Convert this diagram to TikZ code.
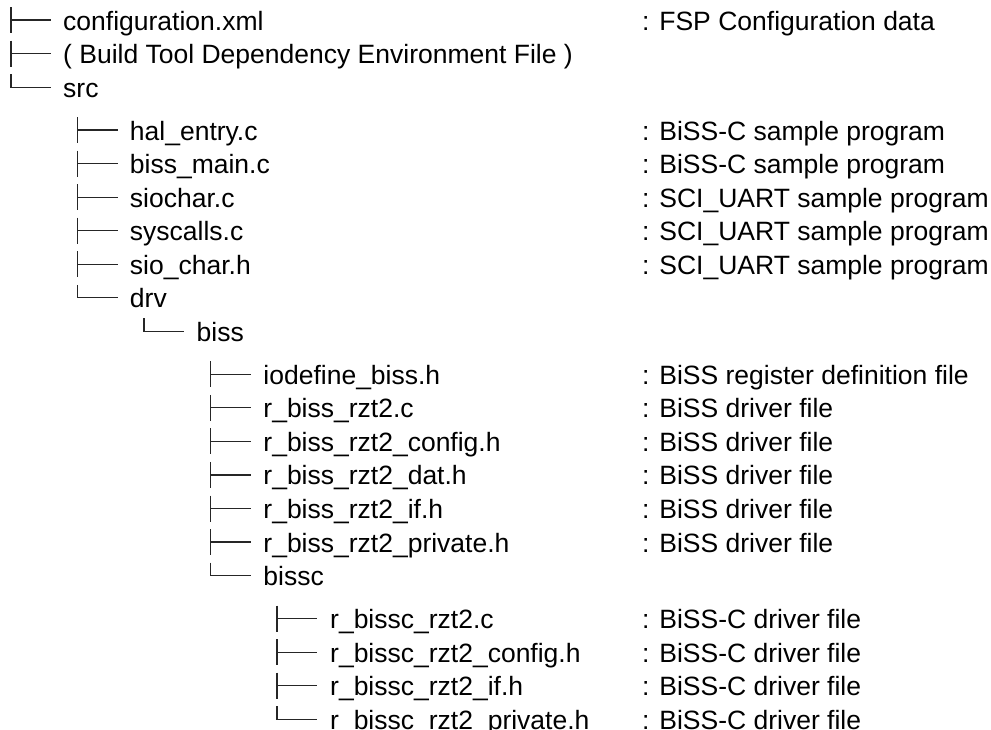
\documentclass[tikz,border=0pt]{standalone}
\usepackage{fontspec}
\setmainfont{Liberation Sans}
\newcommand{\rowfont}{\fontsize{26.5}{30}\selectfont}
\tikzset{
  fname/.style={anchor=base west, inner sep=0pt, font=\rowfont, text=black},
  fdesc/.style={anchor=base west, inner sep=0pt, font=\rowfont, text=black},
  treeline/.style={line width=1.2pt, draw=black!85}
}
% baseline of row #1
\newcommand{\rowY}[1]{\pgfmathsetmacro\by{30+33.55*#1+9.4*((#1>2)+(#1>9)+(#1>16))}}
% #1 name, #2 level, #3 row index, #4 file name
\newcommand{\teeRow}[4]{%
  \pgfmathsetmacro\bx{11+66.5*#2}%
  \pgfmathsetmacro\tx{63+66.75*#2}%
  \rowY{#3}%
  \node[fname] (#1) at (\tx,\by) {#4};
  \coordinate (#1-top) at (\bx,\by-23);
  \coordinate (#1-bot) at (\bx,\by+3);
  \coordinate (#1-mid) at (\bx,\by-10);
  \coordinate (#1-end) at (\bx+40,\by-10);
  \draw[treeline] (#1-top) -- (#1-bot);
  \draw[treeline] (#1-mid) -- (#1-end);
}
\newcommand{\ellRow}[4]{%
  \pgfmathsetmacro\bx{11+66.5*#2}%
  \pgfmathsetmacro\tx{63+66.75*#2}%
  \rowY{#3}%
  \node[fname] (#1) at (\tx,\by) {#4};
  \coordinate (#1-top) at (\bx,\by-23);
  \coordinate (#1-mid) at (\bx,\by-10);
  \coordinate (#1-end) at (\bx+40,\by-10);
  \draw[treeline] (#1-top) -- (#1-mid) -- (#1-end);
}
% #1 name, #2 row index, #3 text
\newcommand{\descRow}[3]{%
  \rowY{#2}%
  \node[fdesc] (#1) at (642,\by) {#3};
}
\begin{document}
\begin{tikzpicture}[x=1pt,y=-1pt]
\useasboundingbox (0,0) rectangle (991,729);
\teeRow{r0}{0}{0}{configuration.xml}
\descRow{d0}{0}{: FSP Configuration data}
\teeRow{r1}{0}{1}{( Build Tool Dependency Environment File )}
\ellRow{r2}{0}{2}{src}
\teeRow{r3}{1}{3}{hal\_entry.c}
\descRow{d3}{3}{: BiSS-C sample program}
\teeRow{r4}{1}{4}{biss\_main.c}
\descRow{d4}{4}{: BiSS-C sample program}
\teeRow{r5}{1}{5}{siochar.c}
\descRow{d5}{5}{: SCI\_UART sample program}
\teeRow{r6}{1}{6}{syscalls.c}
\descRow{d6}{6}{: SCI\_UART sample program}
\teeRow{r7}{1}{7}{sio\_char.h}
\descRow{d7}{7}{: SCI\_UART sample program}
\ellRow{r8}{1}{8}{drv}
\ellRow{r9}{2}{9}{biss}
\teeRow{r10}{3}{10}{iodefine\_biss.h}
\descRow{d10}{10}{: BiSS register definition file}
\teeRow{r11}{3}{11}{r\_biss\_rzt2.c}
\descRow{d11}{11}{: BiSS driver file}
\teeRow{r12}{3}{12}{r\_biss\_rzt2\_config.h}
\descRow{d12}{12}{: BiSS driver file}
\teeRow{r13}{3}{13}{r\_biss\_rzt2\_dat.h}
\descRow{d13}{13}{: BiSS driver file}
\teeRow{r14}{3}{14}{r\_biss\_rzt2\_if.h}
\descRow{d14}{14}{: BiSS driver file}
\teeRow{r15}{3}{15}{r\_biss\_rzt2\_private.h}
\descRow{d15}{15}{: BiSS driver file}
\ellRow{r16}{3}{16}{bissc}
\teeRow{r17}{4}{17}{r\_bissc\_rzt2.c}
\descRow{d17}{17}{: BiSS-C driver file}
\teeRow{r18}{4}{18}{r\_bissc\_rzt2\_config.h}
\descRow{d18}{18}{: BiSS-C driver file}
\teeRow{r19}{4}{19}{r\_bissc\_rzt2\_if.h}
\descRow{d19}{19}{: BiSS-C driver file}
\ellRow{r20}{4}{20}{r\_bissc\_rzt2\_private.h}
\descRow{d20}{20}{: BiSS-C driver file}
\end{tikzpicture}
\end{document}
